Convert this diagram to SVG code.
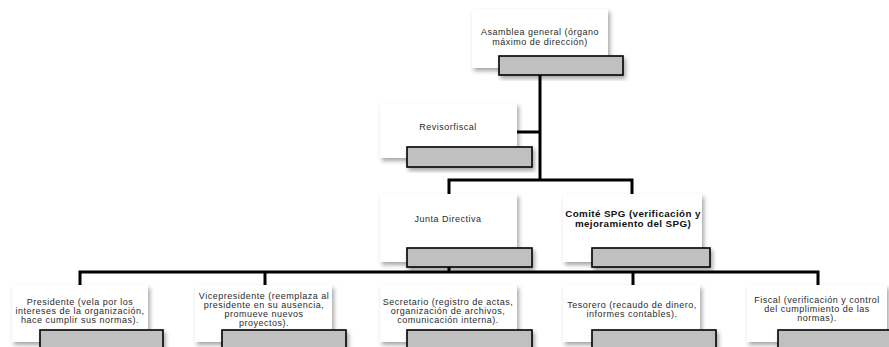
<svg xmlns="http://www.w3.org/2000/svg" width="889" height="347" viewBox="0 0 889 347">
<defs>
<filter id="sh" x="-10%" y="-10%" width="130%" height="140%">
<feDropShadow dx="2" dy="3" stdDeviation="2" flood-color="#000" flood-opacity="0.35"/>
</filter>
</defs>
<style>
.w{fill:#fff;filter:url(#sh)}
.g{fill:#c0c0c0;stroke:#000;stroke-width:1.6;filter:url(#sh)}
.t{font-family:"Liberation Sans",Arial,sans-serif;font-size:9px;fill:#2a2a2a;text-anchor:middle;letter-spacing:0.5px}
.b{font-weight:bold;font-size:9.8px;fill:#111;letter-spacing:0.4px}
.c{fill:none;stroke:#000;stroke-width:3}
</style>
<rect width="889" height="347" fill="#fff"/>
<g id="connectors">
<path class="c" d="M540 66V180M517 132H540M449 194V180H632V194M449 260V272M80 285V272H818V285M265 272V285M633 272V285"/>
</g>
<g id="asamblea">
<rect class="w" x="472" y="9" width="136" height="59"/>
<rect class="g" x="499" y="56" width="124" height="19"/>
<text class="t" x="540" y="35">Asamblea general (órgano</text>
<text class="t" x="540" y="45">máximo de dirección)</text>
</g>
<g id="revisor">
<rect class="w" x="380" y="103" width="137" height="55"/>
<rect class="g" x="407" y="147" width="125" height="20"/>
<text class="t" x="448" y="130">Revisorfiscal</text>
</g>
<g id="junta">
<rect class="w" x="380" y="194" width="137" height="68"/>
<rect class="g" x="407" y="248" width="125" height="19"/>
<text class="t" x="448" y="222">Junta Directiva</text>
</g>
<g id="comite">
<rect class="w" x="563" y="194" width="139" height="68"/>
<rect class="g" x="592" y="248" width="118" height="19"/>
<text class="t b" x="633" y="217">Comité SPG (verificación y</text>
<text class="t b" x="633" y="227">mejoramiento del SPG)</text>
</g>
<g id="presidente">
<rect class="w" x="12" y="285" width="136" height="57"/>
<rect class="g" x="40" y="330" width="123" height="20"/>
<text class="t" x="80" y="305">Presidente (vela por los</text>
<text class="t" x="80" y="314">intereses de la organización,</text>
<text class="t" x="80" y="323">hace cumplir sus normas).</text>
</g>
<g id="vicepresidente">
<rect class="w" x="195" y="285" width="137" height="57"/>
<rect class="g" x="222" y="330" width="124" height="20"/>
<text class="t" x="264" y="299">Vicepresidente (reemplaza al</text>
<text class="t" x="264" y="308">presidente en su ausencia,</text>
<text class="t" x="264" y="317">promueve nuevos</text>
<text class="t" x="264" y="326">proyectos).</text>
</g>
<g id="secretario">
<rect class="w" x="380" y="285" width="137" height="57"/>
<rect class="g" x="407" y="330" width="125" height="20"/>
<text class="t" x="448" y="305">Secretario (registro de actas,</text>
<text class="t" x="448" y="314">organización de archivos,</text>
<text class="t" x="448" y="323">comunicación interna).</text>
</g>
<g id="tesorero">
<rect class="w" x="563" y="285" width="137" height="57"/>
<rect class="g" x="592" y="330" width="124" height="20"/>
<text class="t" x="632" y="308">Tesorero (recaudo de dinero,</text>
<text class="t" x="632" y="317">informes contables).</text>
</g>
<g id="fiscal">
<rect class="w" x="747" y="285" width="140" height="57"/>
<rect class="g" x="778" y="330" width="124" height="20"/>
<text class="t" x="817" y="303">Fiscal (verificación y control</text>
<text class="t" x="817" y="312">del cumplimiento de las</text>
<text class="t" x="817" y="321">normas).</text>
</g>
</svg>
